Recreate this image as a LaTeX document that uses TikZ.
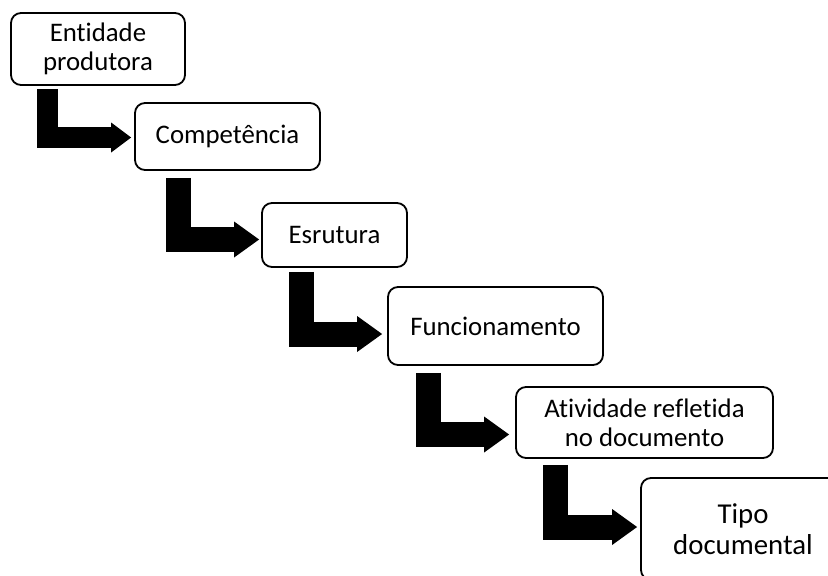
\documentclass[tikz,border=0pt]{standalone}
\usepackage{fontspec}
\setmainfont{Carlito}[RawFeature={-liga}]
\usetikzlibrary{arrows.meta}
\begin{document}
\begin{tikzpicture}[x=1pt,y=-1pt,
  box/.style={draw, line width=1.8pt, rounded corners=10pt, fill=white,
    inner sep=0pt, align=center, font=\fontsize{26.8}{29}\selectfont},
  bent/.style={line width=25pt, line join=miter,
    -{Triangle[width=36pt,length=25pt,line width=0pt]}},
  bentsmall/.style={line width=21pt, line join=miter,
    -{Triangle[width=30pt,length=20pt,line width=0pt]}}]
\clip (0,0) rectangle (828,576);

% process steps
\node[box, minimum width=174pt, minimum height=72pt] (b1) at (98,49) {Entidade\\produtora};
\node[box, minimum width=185pt, minimum height=67pt] (b2) at (227.5,136.5) {Competência};
\node[box, minimum width=145pt, minimum height=64pt] (b3) at (334.5,235) {Esrutura};
\node[box, minimum width=215pt, minimum height=78pt] (b4) at (495.5,326) {Funcionamento};
\node[box, minimum width=257pt, minimum height=71pt] (b5) at (644.5,422.5) {Atividade refletida\\no documento};
\node[box, minimum width=204pt, minimum height=102pt,
  font=\fontsize{28.8}{31}\selectfont] (b6) at (743,529) {Tipo\\documental};

% bent block arrows between consecutive steps
\draw[bentsmall, shorten <=3pt, shorten >=3pt]
  ([xshift=37pt]b1.south west) |- ([yshift=-1pt]b2.west);
\draw[bent, shorten <=7pt, shorten >=2pt]
  ([xshift=44.5pt]b2.south west) |- ([yshift=-4.5pt]b3.west);
\draw[bent, shorten <=4pt, shorten >=5pt]
  ([xshift=40.5pt]b3.south west) |- ([yshift=-8pt]b4.west);
\draw[bent, shorten <=7pt, shorten >=6pt]
  ([xshift=41.5pt]b4.south west) |- ([yshift=-12pt]b5.west);
\draw[bent, shorten <=6pt, shorten >=3pt]
  ([xshift=40.5pt]b5.south west) |- ([yshift=2pt]b6.west);
\end{tikzpicture}
\end{document}
